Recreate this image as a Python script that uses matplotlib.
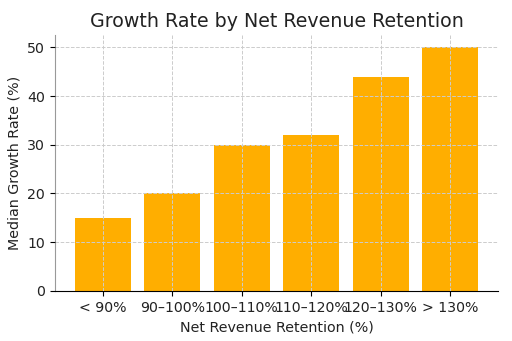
import numpy as np
import matplotlib.pyplot as plt

categories = ['< 90%', '90–100%', '100–110%', '110–120%', '120–130%', '> 130%']
growth = [15, 20, 30, 32, 44, 50]

fig = plt.figure(figsize=(5.12, 3.41), dpi=100)
ax = fig.add_subplot(111)

ax.bar(categories, growth, color='#FFAE00', width=0.8, zorder=1)
ax.grid(True, linestyle='--', color='#cccccc', linewidth=0.7, zorder=2)
ax.set_axisbelow(False)

ax.set_title('Growth Rate by Net Revenue Retention', fontsize=13.7, color='#222222')
ax.set_xlabel('Net Revenue Retention (%)', fontsize=10.3, color='#222222')
ax.set_ylabel('Median Growth Rate (%)', fontsize=10.3, color='#222222')
ax.tick_params(labelsize=10.2, labelcolor='#222222')

ax.spines['top'].set_visible(False)
ax.spines['right'].set_visible(False)
ax.spines['left'].set_color('#999999')

plt.subplots_adjust(left=0.107, right=0.973, top=0.897, bottom=0.147)
plt.savefig('out.png')
